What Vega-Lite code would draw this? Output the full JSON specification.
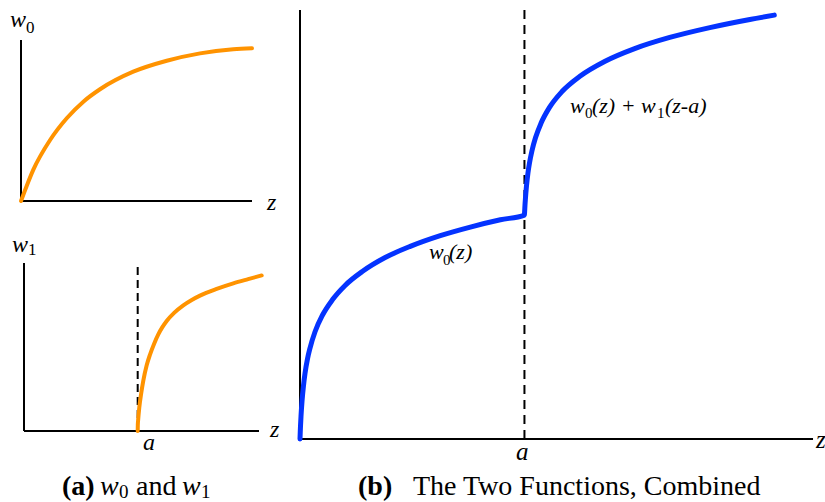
{
  "$schema": "https://vega.github.io/schema/vega-lite/v6.json",
  "padding": 0,
  "autosize": {"type": "pad"},
  "background": "white",
  "config": {
    "view": {"stroke": null},
    "axis": {"disable": true},
    "text": {"font": "Liberation Serif", "align": "left", "baseline": "alphabetic", "color": "black"}
  },
  "datasets": {
    "w0": [
      {"z": 0, "w": 0}, {"z": 0.25, "w": 0.095}, {"z": 0.53, "w": 0.193}, {"z": 1.26, "w": 0.379},
      {"z": 1.98, "w": 0.514}, {"z": 2.7, "w": 0.617}, {"z": 3.42, "w": 0.694}, {"z": 4.86, "w": 0.803},
      {"z": 6.31, "w": 0.871}, {"z": 7.75, "w": 0.917}, {"z": 9.19, "w": 0.942}, {"z": 10, "w": 0.948}
    ],
    "w1": [
      {"z": 4.838, "w": 0}, {"z": 4.843, "w": 0.035}, {"z": 4.86, "w": 0.07}, {"z": 4.906, "w": 0.14},
      {"z": 4.988, "w": 0.225}, {"z": 5.077, "w": 0.3}, {"z": 5.218, "w": 0.39}, {"z": 5.362, "w": 0.455},
      {"z": 5.538, "w": 0.52}, {"z": 5.715, "w": 0.575}, {"z": 5.888, "w": 0.618}, {"z": 6.072, "w": 0.655},
      {"z": 6.388, "w": 0.703}, {"z": 6.779, "w": 0.748}, {"z": 7.138, "w": 0.78}, {"z": 7.489, "w": 0.806},
      {"z": 8.2, "w": 0.846}, {"z": 8.906, "w": 0.879}, {"z": 9.538, "w": 0.904}, {"z": 10.115, "w": 0.926}
    ],
    "comb": [
      {"z": 0, "w": 0}, {"z": 0.005, "w": 0.016}, {"z": 0.01, "w": 0.03}, {"z": 0.02, "w": 0.053},
      {"z": 0.04, "w": 0.088}, {"z": 0.07, "w": 0.125}, {"z": 0.1, "w": 0.153}, {"z": 0.15, "w": 0.187},
      {"z": 0.2, "w": 0.212}, {"z": 0.3, "w": 0.25}, {"z": 0.45, "w": 0.289}, {"z": 0.65, "w": 0.325},
      {"z": 0.9, "w": 0.358}, {"z": 1.25, "w": 0.391}, {"z": 1.7, "w": 0.423}, {"z": 2.2, "w": 0.449},
      {"z": 2.8, "w": 0.474}, {"z": 3.4, "w": 0.494}, {"z": 4.0, "w": 0.511}, {"z": 4.48, "w": 0.522},
      {"z": 4.482, "w": 0.527}, {"z": 4.485, "w": 0.533}, {"z": 4.49, "w": 0.544}, {"z": 4.5, "w": 0.561},
      {"z": 4.52, "w": 0.589}, {"z": 4.55, "w": 0.62}, {"z": 4.58, "w": 0.643}, {"z": 4.63, "w": 0.672},
      {"z": 4.7, "w": 0.702}, {"z": 4.81, "w": 0.736}, {"z": 4.98, "w": 0.773}, {"z": 5.23, "w": 0.81},
      {"z": 5.58, "w": 0.845}, {"z": 6.08, "w": 0.88}, {"z": 6.68, "w": 0.91}, {"z": 7.38, "w": 0.936},
      {"z": 8.18, "w": 0.959}, {"z": 8.98, "w": 0.978}, {"z": 9.467, "w": 0.988}
    ],
    "labA": [
      {"t": "w", "z": -0.476, "w": 1.081, "k": "ax"},
      {"t": "0", "z": 0.216, "w": 1.043, "k": "sub"},
      {"t": "z", "z": 10.649, "w": -0.056, "k": "ax"}
    ],
    "labB": [
      {"t": "w", "z": -0.511, "w": 1.065, "k": "ax"},
      {"t": "1", "z": 0.17, "w": 1.048, "k": "sub"},
      {"t": "a", "z": 5.064, "w": -0.113, "k": "ax"},
      {"t": "z", "z": 10.468, "w": -0.034, "k": "ax"},
      {"t": "(a)", "z": 1.617, "w": -0.381, "k": "capb"},
      {"t": "w", "z": 3.234, "w": -0.381, "k": "capi"},
      {"t": "0", "z": 4.043, "w": -0.399, "k": "caps"},
      {"t": "and", "z": 4.766, "w": -0.381, "k": "capr"},
      {"t": "w", "z": 6.723, "w": -0.381, "k": "capi"},
      {"t": "1", "z": 7.532, "w": -0.399, "k": "caps"}
    ],
    "labC": [
      {"t": "a", "z": 4.311, "w": -0.049, "k": "ax"},
      {"t": "z", "z": 10.299, "w": -0.021, "k": "ax"},
      {"t": "w", "z": 2.575, "w": 0.4196, "k": "lab"},
      {"t": "0", "z": 2.854, "w": 0.4056, "k": "labsub"},
      {"t": "(z)", "z": 2.974, "w": 0.4196, "k": "lab"},
      {"t": "w", "z": 5.389, "w": 0.76, "k": "lab"},
      {"t": "0", "z": 5.689, "w": 0.748, "k": "labsub"},
      {"t": "(z) + w", "z": 5.828, "w": 0.76, "k": "lab"},
      {"t": "1", "z": 7.126, "w": 0.748, "k": "labsub"},
      {"t": "(z-a)", "z": 7.285, "w": 0.76, "k": "lab"},
      {"t": "(b)", "z": 1.158, "w": -0.1305, "k": "capb"},
      {"t": "The Two Functions, Combined", "z": 2.255, "w": -0.1305, "k": "capr"}
    ]
  },
  "hconcat": [
    {
      "vconcat": [
        {
          "width": 252,
          "height": 201,
          "layer": [
            {
              "data": {"values": [{}]},
              "mark": {"type": "rule", "strokeWidth": 2, "color": "black"},
              "encoding": {
                "x": {"datum": 0, "type": "quantitative", "scale": {"domain": [-0.9091, 10], "nice": false, "zero": false}, "axis": null},
                "y": {"datum": 0, "type": "quantitative", "scale": {"domain": [0, 1.2484], "nice": false, "zero": false}, "axis": null},
                "y2": {"datum": 1}
              }
            },
            {
              "data": {"values": [{}]},
              "mark": {"type": "rule", "strokeWidth": 2, "color": "black"},
              "encoding": {
                "x": {"datum": 0, "type": "quantitative", "axis": null},
                "x2": {"datum": 10},
                "y": {"datum": 0, "type": "quantitative", "axis": null}
              }
            },
            {
              "data": {"name": "w0"},
              "mark": {"type": "line", "color": "#ff9300", "strokeWidth": 4, "interpolate": "monotone", "strokeCap": "round"},
              "encoding": {
                "x": {"field": "z", "type": "quantitative", "axis": null},
                "y": {"field": "w", "type": "quantitative", "axis": null}
              }
            },
            {
              "data": {"name": "labA"},
              "transform": [{"filter": "datum.k == 'ax'"}],
              "mark": {"type": "text", "fontStyle": "italic", "fontSize": 24},
              "encoding": {
                "x": {"field": "z", "type": "quantitative", "axis": null},
                "y": {"field": "w", "type": "quantitative", "axis": null},
                "text": {"field": "t"}
              }
            },
            {
              "data": {"name": "labA"},
              "transform": [{"filter": "datum.k == 'sub'"}],
              "mark": {"type": "text", "fontSize": 17},
              "encoding": {
                "x": {"field": "z", "type": "quantitative", "axis": null},
                "y": {"field": "w", "type": "quantitative", "axis": null},
                "text": {"field": "t"}
              }
            }
          ]
        },
        {
          "width": 259,
          "height": 201,
          "layer": [
            {
              "data": {"values": [{}]},
              "mark": {"type": "rule", "strokeWidth": 2, "color": "black"},
              "encoding": {
                "x": {"datum": 0, "type": "quantitative", "scale": {"domain": [-1.0213, 10], "nice": false, "zero": false}, "axis": null},
                "y": {"datum": 0, "type": "quantitative", "scale": {"domain": [0, 1.1964], "nice": false, "zero": false}, "axis": null},
                "y2": {"datum": 1}
              }
            },
            {
              "data": {"values": [{}]},
              "mark": {"type": "rule", "strokeWidth": 2, "color": "black"},
              "encoding": {
                "x": {"datum": 0, "type": "quantitative", "axis": null},
                "x2": {"datum": 10},
                "y": {"datum": 0, "type": "quantitative", "axis": null}
              }
            },
            {
              "data": {"values": [{}]},
              "mark": {"type": "rule", "strokeWidth": 2, "color": "black", "strokeDash": [8, 5]},
              "encoding": {
                "x": {"datum": 4.838, "type": "quantitative", "axis": null},
                "y": {"datum": 0, "type": "quantitative", "axis": null},
                "y2": {"datum": 1}
              }
            },
            {
              "data": {"name": "w1"},
              "mark": {"type": "line", "color": "#ff9300", "strokeWidth": 4, "interpolate": "monotone", "strokeCap": "round"},
              "encoding": {
                "x": {"field": "z", "type": "quantitative", "axis": null},
                "y": {"field": "w", "type": "quantitative", "axis": null}
              }
            },
            {
              "data": {"name": "labB"},
              "transform": [{"filter": "datum.k == 'ax'"}],
              "mark": {"type": "text", "fontStyle": "italic", "fontSize": 24},
              "encoding": {
                "x": {"field": "z", "type": "quantitative", "axis": null},
                "y": {"field": "w", "type": "quantitative", "axis": null},
                "text": {"field": "t"}
              }
            },
            {
              "data": {"name": "labB"},
              "transform": [{"filter": "datum.k == 'sub'"}],
              "mark": {"type": "text", "fontSize": 17},
              "encoding": {
                "x": {"field": "z", "type": "quantitative", "axis": null},
                "y": {"field": "w", "type": "quantitative", "axis": null},
                "text": {"field": "t"}
              }
            },
            {
              "data": {"name": "labB"},
              "transform": [{"filter": "datum.k == 'capb'"}],
              "mark": {"type": "text", "fontSize": 28, "fontWeight": "bold"},
              "encoding": {
                "x": {"field": "z", "type": "quantitative", "axis": null},
                "y": {"field": "w", "type": "quantitative", "axis": null},
                "text": {"field": "t"}
              }
            },
            {
              "data": {"name": "labB"},
              "transform": [{"filter": "datum.k == 'capi'"}],
              "mark": {"type": "text", "fontSize": 28, "fontStyle": "italic"},
              "encoding": {
                "x": {"field": "z", "type": "quantitative", "axis": null},
                "y": {"field": "w", "type": "quantitative", "axis": null},
                "text": {"field": "t"}
              }
            },
            {
              "data": {"name": "labB"},
              "transform": [{"filter": "datum.k == 'capr'"}],
              "mark": {"type": "text", "fontSize": 28},
              "encoding": {
                "x": {"field": "z", "type": "quantitative", "axis": null},
                "y": {"field": "w", "type": "quantitative", "axis": null},
                "text": {"field": "t"}
              }
            },
            {
              "data": {"name": "labB"},
              "transform": [{"filter": "datum.k == 'caps'"}],
              "mark": {"type": "text", "fontSize": 19},
              "encoding": {
                "x": {"field": "z", "type": "quantitative", "axis": null},
                "y": {"field": "w", "type": "quantitative", "axis": null},
                "text": {"field": "t"}
              }
            }
          ]
        }
      ],
      "spacing": 29,
      "bounds": "flush"
    },
    {
      "width": 501,
      "height": 439,
      "layer": [
        {
          "data": {"values": [{}]},
          "mark": {"type": "rule", "strokeWidth": 2, "color": "black"},
          "encoding": {
            "x": {"datum": 0, "type": "quantitative", "scale": {"domain": [0, 10], "nice": false, "zero": false}, "axis": null},
            "y": {"datum": 0, "type": "quantitative", "scale": {"domain": [0, 1.0233], "nice": false, "zero": false}, "axis": null},
            "y2": {"datum": 1}
          }
        },
        {
          "data": {"values": [{}]},
          "mark": {"type": "rule", "strokeWidth": 2, "color": "black"},
          "encoding": {
            "x": {"datum": 0, "type": "quantitative", "axis": null},
            "x2": {"datum": 10.24},
            "y": {"datum": 0, "type": "quantitative", "axis": null}
          }
        },
        {
          "data": {"values": [{}]},
          "mark": {"type": "rule", "strokeWidth": 2, "color": "black", "strokeDash": [9, 6]},
          "encoding": {
            "x": {"datum": 4.48, "type": "quantitative", "axis": null},
            "y": {"datum": 0, "type": "quantitative", "axis": null},
            "y2": {"datum": 1}
          }
        },
        {
          "data": {"name": "comb"},
          "mark": {"type": "line", "color": "#0433ff", "strokeWidth": 5, "interpolate": "monotone", "strokeCap": "round", "strokeJoin": "round"},
          "encoding": {
            "x": {"field": "z", "type": "quantitative", "axis": null},
            "y": {"field": "w", "type": "quantitative", "axis": null}
          }
        },
        {
          "data": {"name": "labC"},
          "transform": [{"filter": "datum.k == 'ax'"}],
          "mark": {"type": "text", "fontStyle": "italic", "fontSize": 25},
          "encoding": {
            "x": {"field": "z", "type": "quantitative", "axis": null},
            "y": {"field": "w", "type": "quantitative", "axis": null},
            "text": {"field": "t"}
          }
        },
        {
          "data": {"name": "labC"},
          "transform": [{"filter": "datum.k == 'lab'"}],
          "mark": {"type": "text", "fontStyle": "italic", "fontSize": 22},
          "encoding": {
            "x": {"field": "z", "type": "quantitative", "axis": null},
            "y": {"field": "w", "type": "quantitative", "axis": null},
            "text": {"field": "t"}
          }
        },
        {
          "data": {"name": "labC"},
          "transform": [{"filter": "datum.k == 'labsub'"}],
          "mark": {"type": "text", "fontSize": 15},
          "encoding": {
            "x": {"field": "z", "type": "quantitative", "axis": null},
            "y": {"field": "w", "type": "quantitative", "axis": null},
            "text": {"field": "t"}
          }
        },
        {
          "data": {"name": "labC"},
          "transform": [{"filter": "datum.k == 'capb'"}],
          "mark": {"type": "text", "fontSize": 28, "fontWeight": "bold"},
          "encoding": {
            "x": {"field": "z", "type": "quantitative", "axis": null},
            "y": {"field": "w", "type": "quantitative", "axis": null},
            "text": {"field": "t"}
          }
        },
        {
          "data": {"name": "labC"},
          "transform": [{"filter": "datum.k == 'capr'"}],
          "mark": {"type": "text", "fontSize": 28},
          "encoding": {
            "x": {"field": "z", "type": "quantitative", "axis": null},
            "y": {"field": "w", "type": "quantitative", "axis": null},
            "text": {"field": "t"}
          }
        }
      ]
    }
  ],
  "spacing": 17,
  "bounds": "full"
}
